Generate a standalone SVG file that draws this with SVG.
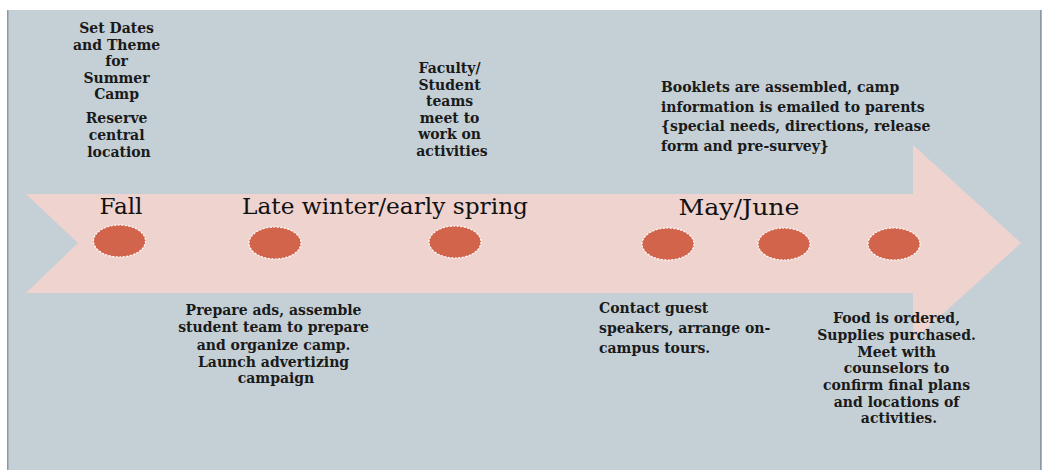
<svg xmlns="http://www.w3.org/2000/svg" width="1044" height="470" viewBox="0 0 1044 470">
  <style>
    .t { font-family: "DejaVu Serif", "Liberation Serif", serif; font-weight: bold; fill: #1a1a1a; }
    .s { font-size: 14px; text-anchor: middle; }
    .m { font-size: 14px; }
    .phase { font-family: "DejaVu Serif", "Liberation Serif", serif; font-size: 22px; fill: #111; text-anchor: middle; }
    .dot { fill: #d2644b; stroke: #ffffff; stroke-width: 1.2; stroke-dasharray: 2 1.5; }
  </style>

  <!-- page background -->
  <rect x="0" y="0" width="1044" height="470" fill="#ffffff"/>
  <rect x="7" y="10" width="1035" height="460" fill="#c5d0d6"/>
  <rect x="7" y="10" width="1.5" height="460" fill="#8a9ba3"/>
  <rect x="1040" y="10" width="1.5" height="460" fill="#8a9ba3"/>

  <!-- timeline arrow -->
  <polygon points="26,194 913,194 913,145 1021,243 913,341 913,293 26,293 78,243" fill="#efd3cf"/>

  <!-- phase labels -->
  <g id="phase-fall"><text class="phase" x="121" y="214" textLength="43" lengthAdjust="spacingAndGlyphs">Fall</text></g>
  <g id="phase-spring"><text class="phase" x="385" y="214" textLength="286" lengthAdjust="spacingAndGlyphs">Late winter/early spring</text></g>
  <g id="phase-mayjune"><text class="phase" x="739" y="215" textLength="121" lengthAdjust="spacingAndGlyphs">May/June</text></g>

  <!-- milestones -->
  <g id="m1"><ellipse class="dot" cx="119.5" cy="241" rx="26" ry="16"/></g>
  <g id="m2"><ellipse class="dot" cx="275" cy="243" rx="26" ry="16"/></g>
  <g id="m3"><ellipse class="dot" cx="455" cy="242" rx="26" ry="16"/></g>
  <g id="m4"><ellipse class="dot" cx="668" cy="244" rx="26" ry="16"/></g>
  <g id="m5"><ellipse class="dot" cx="784" cy="244" rx="26" ry="16"/></g>
  <g id="m6"><ellipse class="dot" cx="894" cy="244" rx="26" ry="16"/></g>

  <!-- task notes -->
  <g id="note-dates">
    <text class="t s">
      <tspan x="119" y="33">Set Dates</tspan>
      <tspan x="119" y="50">and Theme</tspan>
      <tspan x="119" y="66">for</tspan>
      <tspan x="119" y="83">Summer</tspan>
      <tspan x="119" y="99">Camp</tspan>
      <tspan x="119" y="123">Reserve</tspan>
      <tspan x="119" y="140">central</tspan>
      <tspan x="119" y="157">location</tspan>
    </text>
  </g>

  <g id="note-teams">
    <text class="t s">
      <tspan x="452" y="73">Faculty/</tspan>
      <tspan x="452" y="90">Student</tspan>
      <tspan x="452" y="106">teams</tspan>
      <tspan x="452" y="123">meet to</tspan>
      <tspan x="452" y="139">work on</tspan>
      <tspan x="452" y="156">activities</tspan>
    </text>
  </g>

  <g id="note-booklets">
    <text class="t m">
      <tspan x="661" y="92">Booklets are assembled, camp</tspan>
      <tspan x="661" y="112">information is emailed to parents</tspan>
      <tspan x="661" y="131">{special needs, directions, release</tspan>
      <tspan x="661" y="151">form and pre-survey}</tspan>
    </text>
  </g>

  <g id="note-ads">
    <text class="t s">
      <tspan x="276" y="315">Prepare ads, assemble</tspan>
      <tspan x="276" y="332">student team to prepare</tspan>
      <tspan x="276" y="350">and organize camp.</tspan>
      <tspan x="276" y="367">Launch advertizing</tspan>
      <tspan x="276" y="383">campaign</tspan>
    </text>
  </g>

  <g id="note-speakers">
    <text class="t m">
      <tspan x="599" y="313">Contact guest</tspan>
      <tspan x="599" y="333">speakers, arrange on-</tspan>
      <tspan x="599" y="353">campus tours.</tspan>
    </text>
  </g>

  <g id="note-food">
    <text class="t s">
      <tspan x="899" y="323">Food is ordered,</tspan>
      <tspan x="899" y="340">Supplies purchased.</tspan>
      <tspan x="899" y="357">Meet with</tspan>
      <tspan x="899" y="373">counselors to</tspan>
      <tspan x="899" y="390">confirm final plans</tspan>
      <tspan x="899" y="407">and locations of</tspan>
      <tspan x="899" y="423">activities.</tspan>
    </text>
  </g>

  <!-- no connectors: the arrow itself carries the sequence -->
  <g id="connectors"/>
</svg>
